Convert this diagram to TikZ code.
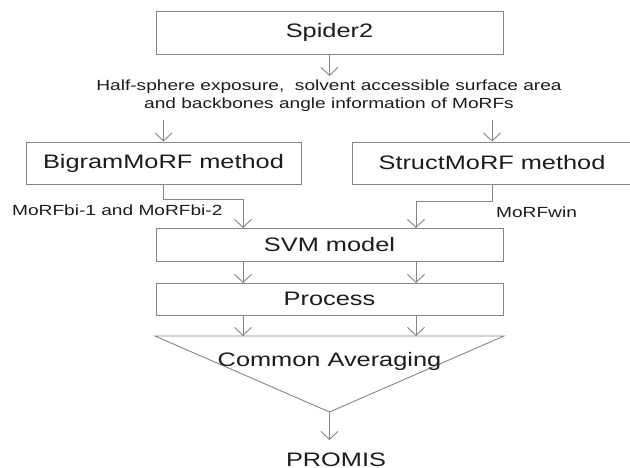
\documentclass[tikz,border=0pt]{standalone}
\usepackage{fontspec}
\setmainfont{Liberation Sans}[FakeStretch=1.3]
\usetikzlibrary{arrows.meta}
\definecolor{linegray}{HTML}{858585}
\definecolor{txt}{HTML}{1C1C1C}
\tikzset{
  bigfont/.style={font=\fontsize{19.5}{22}\selectfont, text=txt},
  smallfont/.style={font=\fontsize{14.7}{18}\selectfont, text=txt},
  flowbox/.style={draw=linegray, line width=0.9pt, rectangle, inner sep=0pt, bigfont},
  arr/.style={draw=linegray, line width=0.9pt, -{Straight Barb[length=8pt,width=17pt,line width=0.9pt]}},
  plain/.style={draw=linegray, line width=0.9pt}
}
\begin{document}
\begin{tikzpicture}[x=1pt,y=-1pt]
\useasboundingbox (0,0) rectangle (630,467);
% boxes
\node[flowbox, minimum width=347pt, minimum height=43pt] (spider) at (329.5,32.5) {Spider2};
\node[smallfont, align=center, inner sep=0pt] (info) at (329,96) {Half-sphere exposure,\ \ solvent accessible surface area\\and backbones angle information of MoRFs};
\node[flowbox, minimum width=275pt, minimum height=42pt] (bigram) at (163.5,163) {BigramMoRF method};
\node[flowbox, minimum width=280pt, minimum height=42pt] (struct) at (492,163) {StructMoRF method};
\node[flowbox, minimum width=347pt, minimum height=33pt] (svm) at (329.5,244.5) {SVM model};
\node[flowbox, minimum width=347pt, minimum height=32pt] (process) at (329.5,299) {Process};
% triangle
\coordinate (triL) at (155,336);
\coordinate (triR) at (504,336);
\coordinate (apex) at (329.5,412);
\draw[plain, line join=miter] (triL) -- (triR) -- (apex) -- cycle;
\node[bigfont, inner sep=0pt] (avg) at (329.5,361) {Common Averaging};
\node[bigfont, inner sep=0pt, anchor=base] (promis) at (336,466) {PROMIS};
% labels
\node[smallfont, inner sep=0pt, anchor=west] (lblbi) at (12,210) {MoRFbi-1 and MoRFbi-2};
\node[smallfont, inner sep=0pt, anchor=west] (lblwin) at (496,212) {MoRFwin};
% coordinates
\coordinate (infoEnd) at (329.5,76);
\coordinate (infoL) at (163.5,120);
\coordinate (infoR) at (492,120);
\coordinate (svmInL) at (243,228);
\coordinate (svmInR) at (416,228);
\coordinate (svmOutL) at (243,261);
\coordinate (svmOutR) at (416,261);
\coordinate (procInL) at (243,283);
\coordinate (procInR) at (416,283);
\coordinate (procOutL) at (243,315);
\coordinate (procOutR) at (416,315);
\coordinate (triInL) at (243,336);
\coordinate (triInR) at (416,336);
\coordinate (promisEnd) at (329.5,440);
% connectors
\draw[arr] (spider.south) -- (infoEnd);
\draw[arr] (infoL) -- (bigram.north);
\draw[arr] (infoR) -- (struct.north);
\draw[arr] (bigram.south) -- ++(0,15) -| (svmInL);
\draw[arr] (struct.south) -- ++(0,17) -| (svmInR);
\draw[arr] (svmOutL) -- (procInL);
\draw[arr] (svmOutR) -- (procInR);
\draw[arr] (procOutL) -- (triInL);
\draw[arr] (procOutR) -- (triInR);
\draw[arr] (apex) -- (promisEnd);
\end{tikzpicture}
\end{document}
